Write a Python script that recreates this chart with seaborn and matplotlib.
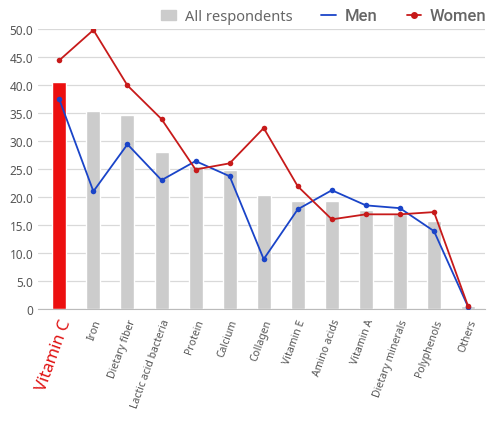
import matplotlib
matplotlib.use("Agg")
import matplotlib.pyplot as plt
import seaborn as sns
import numpy as np
import pandas as pd
from matplotlib.lines import Line2D
from matplotlib.patches import Patch

categories = ["Vitamin C", "Iron", "Dietary fiber", "Lactic acid bacteria", "Protein",
              "Calcium", "Collagen", "Vitamin E", "Amino acids", "Vitamin A",
              "Dietary minerals", "Polyphenols", "Others"]
all_resp = [40.5, 35.4, 34.6, 28.0, 25.5, 24.9, 20.4, 19.3, 19.3, 17.7, 17.0, 15.7, 0.5]
men = [37.4, 21.0, 29.4, 23.0, 26.4, 23.7, 8.9, 17.8, 21.2, 18.5, 18.0, 13.9, 0.4]
women = [44.4, 49.8, 39.9, 33.9, 24.9, 26.0, 32.3, 21.9, 16.0, 16.9, 16.9, 17.3, 0.5]

sns.set_style("white")
plt.rcParams["font.family"] = ["Noto Sans", "DejaVu Sans"]

df = pd.DataFrame({"item": categories, "all": all_resp, "men": men, "women": women,
                   "pos": np.arange(len(categories))})

fig, ax = plt.subplots(figsize=(4.9, 4.27), dpi=100)
fig.subplots_adjust(left=0.078, right=0.99, top=0.93, bottom=0.274)

bar_colors = {c: ("#ec0f0f" if c == "Vitamin C" else "#cccccc") for c in categories}
sns.barplot(data=df, x="item", y="all", hue="item", palette=bar_colors, saturation=1,
            width=0.41, legend=False, ax=ax, zorder=2)
sns.lineplot(data=df, x="pos", y="men", color="#1a44c8", marker="o", markersize=4,
             markeredgewidth=0, linewidth=1.3, ax=ax, zorder=3)
sns.lineplot(data=df, x="pos", y="women", color="#c71a1a", marker="o", markersize=4,
             markeredgewidth=0, linewidth=1.3, ax=ax, zorder=4)

ax.set_ylim(0, 50)
ax.set_xlim(-0.62, 12.5)
ax.set_yticks(np.arange(0, 51, 5))
ax.set_yticklabels(["0"] + [f"{v:.1f}" for v in np.arange(5, 51, 5)])
ax.yaxis.grid(True, color="#d9d9d9", linewidth=0.9, zorder=0)
ax.set_axisbelow(True)
for s in ["top", "right", "left"]:
    ax.spines[s].set_visible(False)
ax.spines["bottom"].set_color("#bbbbbb")
ax.tick_params(axis="both", length=0, colors="#555555", labelsize=8.5)
ax.tick_params(axis="x", pad=6)
ax.set_xlabel("")
ax.set_ylabel("")

ax.set_xticks(range(len(categories)))
ax.set_xticklabels(categories, rotation=70, ha="right", rotation_mode="anchor", fontsize=7.5)
for lbl in ax.get_xticklabels():
    lbl.set_color("#555555")
    if lbl.get_text() == "Vitamin C":
        lbl.set_color("#e01010")
        lbl.set_fontsize(12)

handles = [Patch(color="#cccccc"),
           Line2D([], [], color="#1a44c8", linewidth=1.3),
           Line2D([], [], color="#c71a1a", linewidth=1.3, marker="o", markersize=4)]
leg = fig.legend(handles, ["All respondents", "Men", "Women"], loc="upper right",
                 bbox_to_anchor=(1.02, 1.01), ncol=3, frameon=False, fontsize=10.5,
                 handlelength=1.0, handletextpad=0.6, columnspacing=2.0)
for t in leg.get_texts():
    t.set_color("#666666")
    if t.get_text() != "All respondents":
        t.set_family(["Roboto", "DejaVu Sans"])
        t.set_fontweight("medium")
        t.set_fontsize(12)

fig.savefig("out.png", dpi=100)
